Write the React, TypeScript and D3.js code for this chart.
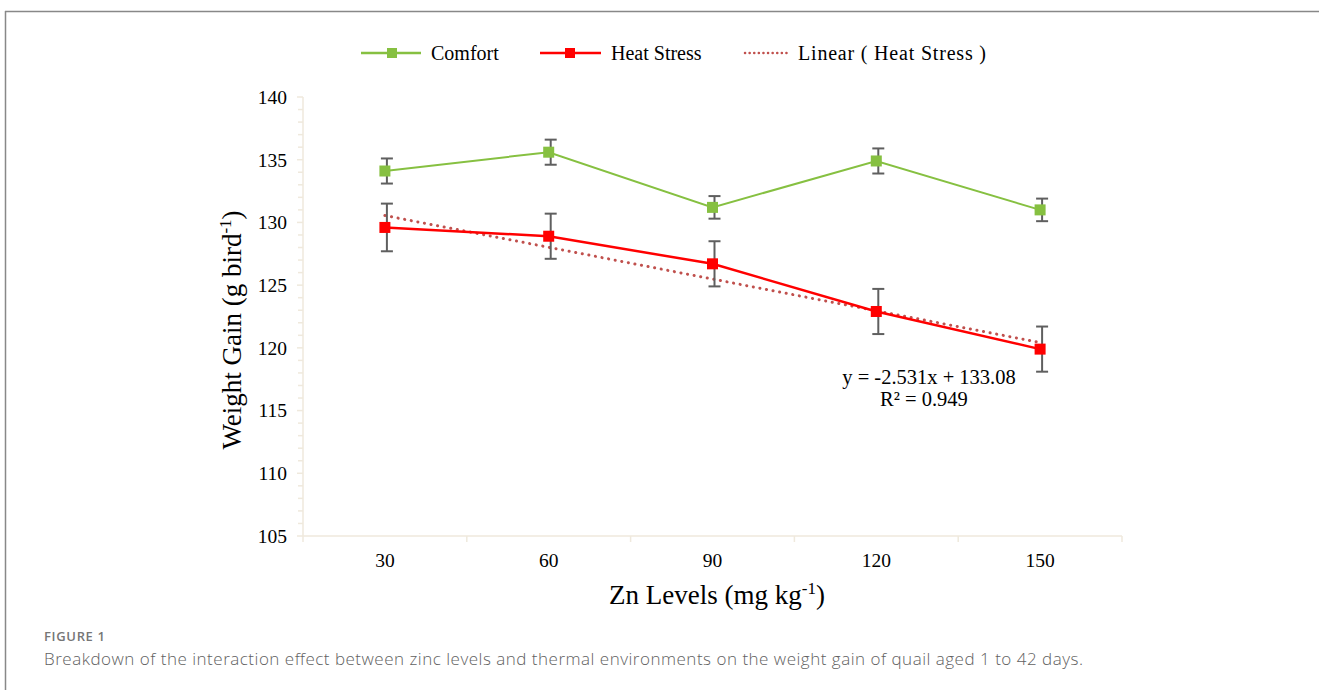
import React, { useRef, useEffect } from "react";
import * as d3 from "d3";

const levels = ["30", "60", "90", "120", "150"];
const comfort = [134.1, 135.6, 131.2, 134.9, 131.0];
const comfortErr = [1.0, 1.0, 0.9, 1.0, 0.9];
const heatStress = [129.6, 128.9, 126.7, 122.9, 119.9];
const heatStressErr = [1.9, 1.8, 1.8, 1.8, 1.8];
const yTicks = [105, 110, 115, 120, 125, 130, 135, 140];
const trendSlope = -2.531;
const trendIntercept = 133.08;
const trendLabel = "y = -2.531x + 133.08";
const r2Label = "R² = 0.949";
const caption =
  "Breakdown of the interaction effect between zinc levels and thermal environments on the weight gain of quail aged 1 to 42 days.";

const W = 1319;
const H = 690;
const serif = "'Liberation Serif', 'Times New Roman', serif";
const axisColor = "#efe9dd";
const green = "#86c041";
const red = "#ff0000";
const trendColor = "#c0504d";
const errColor = "#5f5f5f";

const App = () => {
  const svgRef = useRef(null);

  useEffect(() => {
    const svg = d3.select(svgRef.current);
    svg.selectAll("*").remove();

    const x = d3.scaleBand().domain(levels).range([303, 1122]);
    const cx = (d) => x(d) + x.bandwidth() / 2;
    const y = d3.scaleLinear().domain([105, 140]).range([536, 97]);

    // frame
    svg.append("line").attr("x1", 5).attr("x2", W).attr("y1", 11.5).attr("y2", 11.5)
      .attr("stroke", "#888").attr("stroke-width", 1.5);
    svg.append("line").attr("x1", 5.5).attr("x2", 5.5).attr("y1", 11).attr("y2", H)
      .attr("stroke", "#888").attr("stroke-width", 1.5);

    // y axis
    const g = svg.append("g");
    g.append("line").attr("x1", 303).attr("x2", 303).attr("y1", y(140)).attr("y2", y(105))
      .attr("stroke", axisColor).attr("stroke-width", 1.5);
    d3.range(105, 141, 1).forEach((v) => {
      g.append("line").attr("x1", v % 5 === 0 ? 297 : 298).attr("x2", 303)
        .attr("y1", y(v)).attr("y2", y(v))
        .attr("stroke", axisColor).attr("stroke-width", 1.5);
    });
    g.selectAll("text.ytick").data(yTicks).enter().append("text")
      .attr("x", 287).attr("y", (d) => y(d)).attr("dy", "0.35em")
      .attr("text-anchor", "end").attr("font-family", serif).attr("font-size", 19.5)
      .text((d) => d);

    // x axis
    g.append("line").attr("x1", 303).attr("x2", 1122).attr("y1", y(105)).attr("y2", y(105))
      .attr("stroke", axisColor).attr("stroke-width", 1.5);
    levels.concat(["end"]).forEach((d, i) => {
      const xx = 303 + i * x.bandwidth();
      g.append("line").attr("x1", xx).attr("x2", xx).attr("y1", y(105)).attr("y2", y(105) + 6)
        .attr("stroke", axisColor).attr("stroke-width", 1.5);
    });
    g.selectAll("text.xtick").data(levels).enter().append("text")
      .attr("x", (d) => cx(d)).attr("y", 567)
      .attr("text-anchor", "middle").attr("font-family", serif).attr("font-size", 19.5)
      .text((d) => d);

    // axis titles
    const yt = svg.append("text")
      .attr("transform", "translate(241,330) rotate(-90)")
      .attr("text-anchor", "middle").attr("font-family", serif).attr("font-size", 27);
    yt.append("tspan").text("Weight Gain (g bird");
    yt.append("tspan").attr("dy", -10).attr("font-size", 17).text("-1");
    yt.append("tspan").attr("dy", 10).text(")");

    const xt = svg.append("text")
      .attr("x", 717).attr("y", 604)
      .attr("text-anchor", "middle").attr("font-family", serif).attr("font-size", 27);
    xt.append("tspan").text("Zn Levels (mg kg");
    xt.append("tspan").attr("dy", -10).attr("font-size", 17).text("-1");
    xt.append("tspan").attr("dy", 10).text(")");

    // trendline
    const trend = levels.map((d, i) => [cx(d), y(trendSlope * (i + 1) + trendIntercept)]);
    svg.append("path").attr("d", d3.line()(trend)).attr("fill", "none")
      .attr("stroke", trendColor).attr("stroke-width", 3)
      .attr("stroke-dasharray", "0.1 6.6").attr("stroke-linecap", "round");

    const drawSeries = (vals, errs, color, lw) => {
      const pts = levels.map((d, i) => [cx(d), y(vals[i])]);
      svg.append("path").attr("d", d3.line()(pts)).attr("fill", "none")
        .attr("stroke", color).attr("stroke-width", lw);
      levels.forEach((d, i) => {
        const xx = cx(d) + 2;
        const top = y(vals[i] + errs[i]);
        const bot = y(vals[i] - errs[i]);
        const eg = svg.append("g").attr("stroke", errColor).attr("stroke-width", 2);
        eg.append("line").attr("x1", xx).attr("x2", xx).attr("y1", top).attr("y2", bot);
        eg.append("line").attr("x1", xx - 6).attr("x2", xx + 6).attr("y1", top).attr("y2", top);
        eg.append("line").attr("x1", xx - 6).attr("x2", xx + 6).attr("y1", bot).attr("y2", bot);
      });
      svg.append("g").selectAll("rect").data(pts).enter().append("rect")
        .attr("x", (p) => p[0] - 5.5).attr("y", (p) => p[1] - 5.5)
        .attr("width", 11).attr("height", 11).attr("fill", color);
    };
    drawSeries(comfort, comfortErr, green, 2);
    drawSeries(heatStress, heatStressErr, red, 2.5);

    // equation
    svg.append("text").attr("x", 929).attr("y", 384).attr("text-anchor", "middle")
      .attr("font-family", serif).attr("font-size", 20.5).text(trendLabel);
    svg.append("text").attr("x", 924).attr("y", 406).attr("text-anchor", "middle")
      .attr("font-family", serif).attr("font-size", 20.5).text(r2Label);

    // legend
    const lg = svg.append("g").attr("font-family", serif).attr("font-size", 20);
    const ly = 53;
    lg.append("line").attr("x1", 361).attr("x2", 421).attr("y1", ly).attr("y2", ly)
      .attr("stroke", green).attr("stroke-width", 2.5);
    lg.append("rect").attr("x", 387).attr("y", ly - 5).attr("width", 10).attr("height", 10).attr("fill", green);
    lg.append("text").attr("x", 431).attr("y", ly).attr("dy", "0.33em").text("Comfort");
    lg.append("line").attr("x1", 540).attr("x2", 601).attr("y1", ly).attr("y2", ly)
      .attr("stroke", red).attr("stroke-width", 2.5);
    lg.append("rect").attr("x", 565).attr("y", ly - 5).attr("width", 10).attr("height", 10).attr("fill", red);
    lg.append("text").attr("x", 611).attr("y", ly).attr("dy", "0.33em").text("Heat Stress");
    lg.append("line").attr("x1", 745).attr("x2", 790).attr("y1", ly).attr("y2", ly)
      .attr("stroke", trendColor).attr("stroke-width", 2.5)
      .attr("stroke-dasharray", "0.1 4.5").attr("stroke-linecap", "round");
    lg.append("text").attr("x", 798).attr("y", ly).attr("dy", "0.33em")
      .attr("textLength", 188).attr("lengthAdjust", "spacing").text("Linear ( Heat Stress )");

    // caption
    svg.append("text").attr("x", 44).attr("y", 641).attr("font-family", "'Open Sans', sans-serif")
      .attr("font-size", 13).attr("font-weight", 600).attr("fill", "#767676")
      .attr("textLength", 61).attr("lengthAdjust", "spacing").text("FIGURE 1");
    svg.append("text").attr("x", 44).attr("y", 665).attr("font-family", "'Open Sans', sans-serif")
      .attr("font-size", 17).attr("font-weight", 300).attr("fill", "#616161")
      .attr("textLength", 1039).attr("lengthAdjust", "spacing").text(caption);
  }, []);

  return (
    <div style={{ position: "absolute", left: 0, top: 0 }}>
      <svg ref={svgRef} width={W} height={H} style={{ display: "block", background: "#fff" }}></svg>
    </div>
  );
};

export default App;
